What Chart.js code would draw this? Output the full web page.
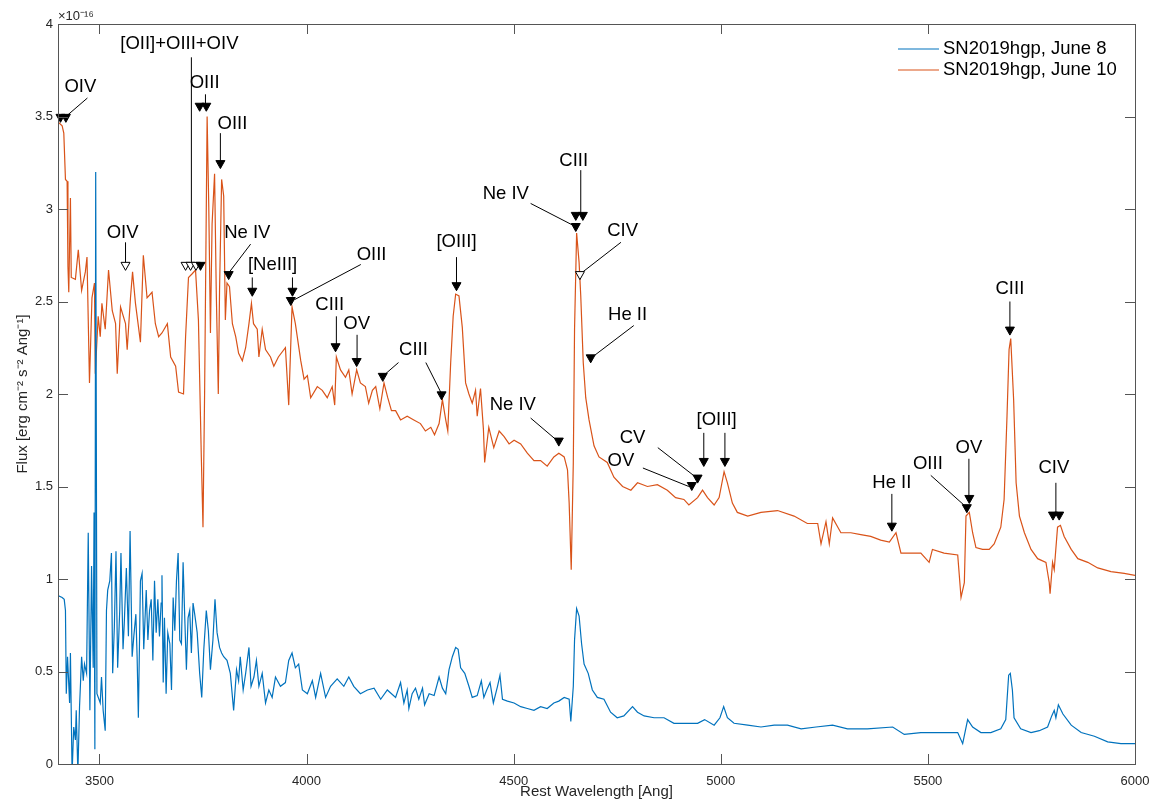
<!DOCTYPE html>
<html>
<head>
<meta charset="utf-8">
<title>SN2019hgp spectra</title>
<script src="https://cdn.jsdelivr.net/npm/chart.js@4.4.0/dist/chart.umd.min.js"></script>
<style>
    body { margin: 0; background: #fff; }
    #wrap { width: 1153px; height: 803px; }
</style>
</head>
<body>
<div id="wrap"><canvas id="spec" width="1153" height="803"></canvas></div>
<script>
// wavelength [Ang] / flux [1e-16 erg cm-2 s-1 Ang-1]
const waveJune10 = [3400, 3410, 3414, 3418, 3422, 3424, 3426, 3430, 3432, 3442, 3449, 3457, 3466, 3470, 3476, 3482, 3488, 3490, 3497, 3502,
    3506, 3514, 3522, 3531, 3539, 3543, 3551, 3563, 3567, 3575, 3580, 3587, 3599, 3606, 3615, 3627, 3635, 3643, 3651, 3664,
    3672, 3684, 3691, 3703, 3708, 3715, 3724, 3732, 3739, 3746, 3750, 3754, 3760, 3764, 3768, 3772, 3778, 3782, 3787, 3790,
    3795, 3800, 3804, 3808, 3814, 3821, 3829, 3836, 3845, 3853, 3861, 3867, 3872, 3881, 3885, 3893, 3901, 3913, 3921, 3932,
    3949, 3957, 3965, 3973, 3986, 3994, 4002, 4010, 4026, 4038, 4050, 4062, 4068, 4072, 4082, 4094, 4102, 4110, 4121, 4130,
    4142, 4150, 4159, 4167, 4177, 4187, 4196, 4205, 4215, 4227, 4243, 4259, 4275, 4287, 4300, 4309, 4320, 4328, 4336, 4341,
    4348, 4354, 4360, 4368, 4376, 4384, 4392, 4400, 4408, 4412, 4420, 4427, 4430, 4440, 4452, 4465, 4477, 4489, 4501, 4517,
    4533, 4549, 4565, 4581, 4597, 4609, 4622, 4630, 4634, 4639, 4644, 4647, 4652, 4658, 4662, 4668, 4674, 4682, 4694, 4706,
    4726, 4742, 4763, 4783, 4799, 4823, 4847, 4871, 4891, 4911, 4923, 4944, 4956, 4968, 4984, 4996, 5008, 5016, 5028, 5040,
    5065, 5097, 5137, 5177, 5209, 5234, 5242, 5254, 5262, 5270, 5290, 5314, 5338, 5362, 5386, 5407, 5423, 5435, 5459, 5483,
    5503, 5511, 5539, 5572, 5580, 5588, 5592, 5600, 5608, 5616, 5632, 5648, 5660, 5676, 5684, 5691, 5696, 5700, 5707, 5713,
    5721, 5733, 5749, 5765, 5785, 5793, 5795, 5801, 5805, 5813, 5820, 5829, 5846, 5862, 5886, 5910, 5942, 5974, 6000];
const fluxJune10 = [3.47, 3.45, 3.41, 3.16, 3.15, 2.69, 2.55, 3.06, 2.63, 2.62, 2.78, 2.56, 2.66, 2.74, 2.06, 2.52, 2.60, 2.11, 2.42, 2.31,
    2.49, 2.35, 2.67, 2.45, 2.38, 2.11, 2.47, 2.38, 2.24, 2.52, 2.66, 2.49, 2.28, 2.75, 2.52, 2.55, 2.38, 2.31, 2.33, 2.38,
    2.20, 2.15, 2.01, 2.00, 2.31, 2.63, 2.65, 2.67, 2.40, 1.66, 1.28, 2.02, 3.50, 3.01, 2.33, 2.92, 3.19, 2.56, 2.00, 2.56,
    3.16, 3.07, 2.40, 2.60, 2.58, 2.38, 2.31, 2.22, 2.18, 2.25, 2.38, 2.49, 2.38, 2.35, 2.20, 2.35, 2.24, 2.20, 2.15, 2.20,
    2.25, 1.94, 2.47, 2.38, 2.18, 2.08, 2.10, 1.98, 2.04, 2.02, 1.98, 2.04, 1.94, 2.20, 2.13, 2.09, 2.13, 2.00, 2.13, 2.06,
    2.04, 1.95, 2.02, 2.04, 1.92, 2.06, 1.98, 1.91, 1.91, 1.86, 1.88, 1.86, 1.84, 1.80, 1.82, 1.78, 1.84, 1.97, 1.86, 1.80,
    2.17, 2.42, 2.54, 2.53, 2.36, 2.06, 2.00, 1.95, 2.02, 1.88, 2.03, 1.81, 1.63, 1.82, 1.71, 1.80, 1.77, 1.73, 1.75, 1.73,
    1.68, 1.64, 1.64, 1.61, 1.66, 1.68, 1.66, 1.59, 1.41, 1.05, 1.63, 2.35, 2.87, 2.71, 2.53, 2.17, 1.98, 1.86, 1.72, 1.66,
    1.63, 1.55, 1.50, 1.48, 1.52, 1.50, 1.51, 1.48, 1.44, 1.43, 1.40, 1.44, 1.48, 1.44, 1.40, 1.44, 1.58, 1.52, 1.41, 1.36,
    1.34, 1.36, 1.37, 1.34, 1.30, 1.30, 1.19, 1.31, 1.19, 1.33, 1.25, 1.25, 1.24, 1.23, 1.21, 1.20, 1.25, 1.14, 1.14, 1.14,
    1.09, 1.16, 1.14, 1.13, 0.90, 0.98, 1.34, 1.36, 1.25, 1.17, 1.16, 1.16, 1.19, 1.28, 1.43, 1.88, 2.24, 2.30, 1.97, 1.52,
    1.34, 1.25, 1.16, 1.11, 1.09, 0.98, 0.92, 1.09, 1.05, 1.28, 1.29, 1.23, 1.16, 1.11, 1.09, 1.06, 1.04, 1.03, 1.02];

const waveJune8 = [3400, 3410, 3415, 3418, 3420, 3423, 3428, 3430, 3434, 3438, 3442, 3444, 3448, 3452, 3457, 3461, 3464, 3469, 3473, 3477,
    3481, 3485, 3487, 3489, 3491, 3494, 3502, 3505, 3509, 3514, 3517, 3520, 3525, 3529, 3532, 3536, 3540, 3544, 3549, 3552,
    3557, 3560, 3565, 3570, 3574, 3579, 3583, 3588, 3591, 3594, 3599, 3603, 3607, 3613, 3617, 3621, 3625, 3629, 3633, 3637,
    3641, 3645, 3649, 3651, 3654, 3657, 3661, 3665, 3670, 3674, 3678, 3682, 3686, 3690, 3694, 3698, 3702, 3706, 3710, 3714,
    3718, 3722, 3726, 3730, 3736, 3742, 3747, 3752, 3758, 3763, 3768, 3774, 3779, 3784, 3790, 3795, 3800, 3808, 3816, 3824,
    3831, 3836, 3840, 3847, 3853, 3861, 3866, 3873, 3879, 3885, 3893, 3901, 3909, 3917, 3925, 3937, 3949, 3957, 3965, 3973,
    3981, 3990, 4002, 4014, 4022, 4034, 4046, 4058, 4074, 4090, 4102, 4114, 4130, 4147, 4163, 4179, 4195, 4215, 4227, 4235,
    4243, 4247, 4255, 4263, 4271, 4280, 4285, 4296, 4308, 4320, 4328, 4336, 4344, 4352, 4360, 4366, 4372, 4382, 4392, 4400,
    4412, 4422, 4428, 4435, 4443, 4451, 4461, 4467, 4473, 4485, 4501, 4517, 4533, 4549, 4565, 4581, 4597, 4609, 4622, 4634,
    4638, 4644, 4647, 4652, 4658, 4664, 4670, 4680, 4690, 4702, 4718, 4734, 4750, 4766, 4787, 4799, 4815, 4839, 4863, 4887,
    4920, 4944, 4961, 4984, 4998, 5007, 5016, 5032, 5065, 5097, 5129, 5161, 5194, 5230, 5270, 5306, 5354, 5415, 5443, 5483,
    5532, 5572, 5584, 5596, 5608, 5628, 5652, 5676, 5688, 5695, 5699, 5704, 5708, 5724, 5749, 5769, 5789, 5799, 5805, 5809,
    5815, 5826, 5846, 5870, 5902, 5934, 5966, 6000];
const fluxJune8 = [0.91, 0.90, 0.89, 0.83, 0.38, 0.58, 0.33, 0.60, -0.05, 0.20, 0.13, 0.29, -0.05, 0.31, 0.58, 0.45, 0.54, 0.49, 1.25, 0.29,
    1.07, 0.52, 1.36, 0.08, 3.20, 0.38, 0.33, 0.47, 0.29, 0.18, 0.83, 0.94, 0.99, 1.14, 0.49, 0.74, 1.15, 0.52, 0.83, 1.14,
    0.62, 0.76, 1.06, 0.69, 1.26, 0.58, 0.69, 0.81, 0.58, 0.25, 0.99, 1.03, 0.62, 0.94, 0.67, 0.83, 0.89, 0.56, 0.99, 0.71,
    0.89, 0.69, 0.87, 1.02, 0.44, 0.79, 0.38, 0.71, 0.65, 0.40, 0.90, 0.72, 0.99, 1.14, 0.67, 0.65, 1.09, 0.79, 0.51, 0.79,
    0.83, 0.60, 0.87, 0.81, 0.71, 0.49, 0.36, 0.62, 0.83, 0.72, 0.51, 0.67, 0.89, 0.71, 0.63, 0.60, 0.58, 0.56, 0.49, 0.29,
    0.51, 0.45, 0.58, 0.40, 0.49, 0.63, 0.42, 0.47, 0.56, 0.42, 0.49, 0.33, 0.40, 0.36, 0.47, 0.42, 0.44, 0.56, 0.60, 0.52,
    0.54, 0.40, 0.38, 0.45, 0.36, 0.49, 0.36, 0.42, 0.46, 0.42, 0.47, 0.42, 0.38, 0.40, 0.41, 0.35, 0.40, 0.36, 0.44, 0.33,
    0.40, 0.30, 0.38, 0.41, 0.35, 0.41, 0.32, 0.38, 0.37, 0.47, 0.41, 0.38, 0.51, 0.58, 0.63, 0.62, 0.52, 0.49, 0.42, 0.36,
    0.37, 0.45, 0.36, 0.40, 0.44, 0.33, 0.42, 0.48, 0.35, 0.34, 0.33, 0.31, 0.30, 0.29, 0.31, 0.30, 0.33, 0.34, 0.36, 0.35,
    0.23, 0.42, 0.67, 0.84, 0.80, 0.65, 0.54, 0.49, 0.40, 0.36, 0.35, 0.28, 0.25, 0.26, 0.31, 0.28, 0.26, 0.25, 0.25, 0.22,
    0.22, 0.22, 0.24, 0.21, 0.25, 0.31, 0.25, 0.22, 0.21, 0.20, 0.21, 0.21, 0.19, 0.20, 0.21, 0.19, 0.19, 0.20, 0.16, 0.17,
    0.17, 0.17, 0.11, 0.24, 0.20, 0.17, 0.17, 0.19, 0.24, 0.48, 0.49, 0.40, 0.25, 0.19, 0.17, 0.18, 0.20, 0.26, 0.29, 0.25,
    0.32, 0.27, 0.21, 0.17, 0.15, 0.12, 0.11, 0.11];

const seriesLabels = ['SN2019hgp, June 8', 'SN2019hgp, June 10'];
const xTickValues = [3500, 4000, 4500, 5000, 5500, 6000];
const yTickValues = [0, 0.5, 1, 1.5, 2, 2.5, 3, 3.5, 4];

// line identifications: label, label centre, arrow segments, marker positions (all in data units)
const lineIds = [
    {text: 'OIV', at: [3454, 3.66], lines: [[3471, 3.60, 3414, 3.49]], filled: [[3406, 3.49], [3419, 3.49]], open: []},
    {text: '[OII]+OIII+OIV', at: [3693, 3.89], lines: [[3722, 3.82, 3722, 2.69]], filled: [[3744, 2.69]], open: [[3708, 2.69], [3720, 2.69], [3733, 2.69]]},
    {text: 'OIII', at: [3754, 3.68], lines: [[3756, 3.62, 3756, 3.55]], filled: [[3742, 3.55], [3758, 3.55]], open: []},
    {text: 'OIII', at: [3821, 3.46], lines: [[3792, 3.41, 3792, 3.24]], filled: [[3792, 3.24]], open: []},
    {text: 'OIV', at: [3556, 2.87], lines: [[3563, 2.82, 3563, 2.69]], filled: [], open: [[3563, 2.69]]},
    {text: 'Ne IV', at: [3857, 2.87], lines: [[3865, 2.81, 3814, 2.66]], filled: [[3812, 2.64]], open: []},
    {text: '[NeIII]', at: [3918, 2.70], lines: [[3869, 2.63, 3869, 2.55], [3966, 2.63, 3966, 2.55]], filled: [[3869, 2.55], [3966, 2.55]], open: []},
    {text: 'OIII', at: [4157, 2.75], lines: [[4131, 2.70, 3971, 2.51]], filled: [[3962, 2.50]], open: []},
    {text: 'CIII', at: [4056, 2.48], lines: [[4072, 2.42, 4072, 2.25]], filled: [[4070, 2.25]], open: []},
    {text: 'OV', at: [4121, 2.38], lines: [[4122, 2.32, 4122, 2.17]], filled: [[4121, 2.17]], open: []},
    {text: 'CIII', at: [4258, 2.24], lines: [[4222, 2.17, 4186, 2.10], [4288, 2.17, 4324, 2.01]], filled: [[4184, 2.09], [4326, 1.99]], open: []},
    {text: '[OIII]', at: [4362, 2.82], lines: [[4362, 2.74, 4362, 2.59]], filled: [[4362, 2.58]], open: []},
    {text: 'Ne IV', at: [4498, 1.94], lines: [[4541, 1.87, 4604, 1.75]], filled: [[4609, 1.74]], open: []},
    {text: 'CIII', at: [4645, 3.26], lines: [[4662, 3.21, 4662, 2.97]], filled: [[4650, 2.96], [4667, 2.96]], open: []},
    {text: 'Ne IV', at: [4481, 3.08], lines: [[4541, 3.03, 4645, 2.91]], filled: [[4650, 2.90]], open: []},
    {text: 'CIV', at: [4763, 2.88], lines: [[4759, 2.82, 4667, 2.66]], filled: [], open: [[4660, 2.64]]},
    {text: 'He II', at: [4775, 2.43], lines: [[4790, 2.37, 4696, 2.21]], filled: [[4686, 2.19]], open: []},
    {text: 'CV', at: [4787, 1.76], lines: [[4848, 1.71, 4940, 1.55]], filled: [[4944, 1.54]], open: []},
    {text: 'OV', at: [4759, 1.64], lines: [[4812, 1.60, 4923, 1.50]], filled: [[4930, 1.50]], open: []},
    {text: '[OIII]', at: [4990, 1.86], lines: [[4959, 1.79, 4959, 1.63], [5010, 1.79, 5010, 1.63]], filled: [[4959, 1.63], [5010, 1.63]], open: []},
    {text: 'He II', at: [5413, 1.52], lines: [[5413, 1.46, 5413, 1.28]], filled: [[5413, 1.28]], open: []},
    {text: 'OIII', at: [5500, 1.62], lines: [[5507, 1.56, 5587, 1.40]], filled: [[5594, 1.38]], open: []},
    {text: 'OV', at: [5599, 1.71], lines: [[5599, 1.65, 5599, 1.43]], filled: [[5600, 1.43]], open: []},
    {text: 'CIII', at: [5698, 2.57], lines: [[5698, 2.50, 5698, 2.35]], filled: [[5698, 2.34]], open: []},
    {text: 'CIV', at: [5804, 1.60], lines: [[5809, 1.52, 5809, 1.34]], filled: [[5802, 1.34], [5817, 1.34]], open: []}
];

const BLUE = '#0072BD';
const ORANGE = '#D95319';
const AXIS = '#555555';
const FONT = "'Liberation Sans', Arial, Helvetica, sans-serif";

function toPoints(xs, ys) {
    return xs.map((x, i) => ({x: x, y: ys[i]}));
}

function drawTriangle(ctx, x, y, hollow) {
    ctx.beginPath();
    ctx.moveTo(x - 4.5, y - 4);
    ctx.lineTo(x + 4.5, y - 4);
    ctx.lineTo(x, y + 4);
    ctx.closePath();
    ctx.fillStyle = hollow ? '#ffffff' : '#000000';
    ctx.fill();
    ctx.strokeStyle = '#000000';
    ctx.lineWidth = 1;
    ctx.stroke();
}

// box, inward ticks on all four sides, exponent note
const axesBox = {
    id: 'axesBox',
    afterDraw(chart) {
        const ctx = chart.ctx;
        const a = chart.chartArea;
        const xs = chart.scales.x;
        const ys = chart.scales.y;
        ctx.save();
        ctx.strokeStyle = AXIS;
        ctx.lineWidth = 1;
        ctx.strokeRect(a.left + 0.5, a.top + 0.5, a.right - a.left, a.bottom - a.top);
        ctx.beginPath();
        xs.ticks.forEach(t => {
            const px = Math.round(xs.getPixelForValue(t.value)) + 0.5;
            ctx.moveTo(px, a.bottom); ctx.lineTo(px, a.bottom - 10);
            ctx.moveTo(px, a.top); ctx.lineTo(px, a.top + 10);
        });
        ys.ticks.forEach(t => {
            const py = Math.round(ys.getPixelForValue(t.value)) + 0.5;
            ctx.moveTo(a.left, py); ctx.lineTo(a.left + 10, py);
            ctx.moveTo(a.right, py); ctx.lineTo(a.right - 10, py);
        });
        ctx.stroke();

        ctx.fillStyle = '#262626';
        ctx.font = '13px ' + FONT;
        ctx.textAlign = 'left';
        ctx.textBaseline = 'middle';
        ctx.fillText('×10⁻¹⁶', a.left, a.top - 8);
        ctx.restore();
    }
};

const lineMarks = {
    id: 'lineMarks',
    afterDatasetsDraw(chart) {
        const ctx = chart.ctx;
        const xs = chart.scales.x;
        const ys = chart.scales.y;
        const px = v => xs.getPixelForValue(v);
        const py = v => ys.getPixelForValue(v);
        ctx.save();
        ctx.strokeStyle = '#000000';
        ctx.lineWidth = 1;
        lineIds.forEach(id => {
            id.lines.forEach(l => {
                ctx.beginPath();
                ctx.moveTo(px(l[0]), py(l[1]));
                ctx.lineTo(px(l[2]), py(l[3]));
                ctx.stroke();
            });
        });
        lineIds.forEach(id => {
            id.open.forEach(m => drawTriangle(ctx, px(m[0]), py(m[1]), true));
            id.filled.forEach(m => drawTriangle(ctx, px(m[0]), py(m[1]), false));
        });
        ctx.fillStyle = '#000000';
        ctx.font = '18.5px ' + FONT;
        ctx.textAlign = 'center';
        ctx.textBaseline = 'middle';
        lineIds.forEach(id => ctx.fillText(id.text, px(id.at[0]), py(id.at[1])));
        ctx.restore();
    }
};

const cornerLegend = {
    id: 'cornerLegend',
    afterDraw(chart) {
        const ctx = chart.ctx;
        const a = chart.chartArea;
        ctx.save();
        ctx.font = '18.5px ' + FONT;
        ctx.textAlign = 'left';
        ctx.textBaseline = 'middle';
        chart.data.datasets.forEach((ds, i) => {
            const y = a.top + 25 + i * 21;
            ctx.strokeStyle = ds.borderColor;
            ctx.lineWidth = 1.2;
            ctx.beginPath();
            ctx.moveTo(a.right - 237, y);
            ctx.lineTo(a.right - 196, y);
            ctx.stroke();
            ctx.fillStyle = '#000000';
            ctx.fillText(ds.label, a.right - 192, y);
        });
        ctx.restore();
    }
};

Chart.defaults.font.family = FONT;

new Chart(document.getElementById('spec'), {
    type: 'line',
    data: {
        datasets: [
            {
                label: seriesLabels[0],
                data: toPoints(waveJune8, fluxJune8),
                borderColor: BLUE,
                borderWidth: 1.2,
                pointRadius: 0,
                tension: 0
            },
            {
                label: seriesLabels[1],
                data: toPoints(waveJune10, fluxJune10),
                borderColor: ORANGE,
                borderWidth: 1.2,
                pointRadius: 0,
                tension: 0
            }
        ]
    },
    options: {
        responsive: false,
        animation: false,
        events: [],
        layout: {padding: {top: 24, right: 18, left: 0, bottom: 0}},
        plugins: {
            legend: {display: false},
            tooltip: {enabled: false}
        },
        scales: {
            x: {
                type: 'linear',
                min: 3400,
                max: 6000,
                afterBuildTicks: s => { s.ticks = xTickValues.map(v => ({value: v})); },
                afterFit: s => { s.height = 39; s.paddingLeft = 0; s.paddingRight = 0; },
                grid: {display: false, drawTicks: false},
                border: {display: false},
                ticks: {
                    padding: 10,
                    color: '#262626',
                    font: {size: 13},
                    maxRotation: 0,
                    callback: v => String(v)
                },
                title: {
                    display: true,
                    text: 'Rest Wavelength [Ang]',
                    color: '#262626',
                    font: {size: 15},
                    padding: {top: 0, bottom: 2}
                }
            },
            y: {
                type: 'linear',
                min: 0,
                max: 4,
                afterBuildTicks: s => { s.ticks = yTickValues.map(v => ({value: v})); },
                afterFit: s => { s.width = 58; s.paddingTop = 0; s.paddingBottom = 0; },
                grid: {display: false, drawTicks: false},
                border: {display: false},
                ticks: {
                    padding: 5,
                    color: '#262626',
                    font: {size: 13},
                    callback: v => String(v)
                },
                title: {
                    display: true,
                    text: 'Flux [erg cm⁻² s⁻² Ang⁻¹]',
                    color: '#262626',
                    font: {size: 15},
                    padding: {top: 14, bottom: 0}
                }
            }
        }
    },
    plugins: [axesBox, lineMarks, cornerLegend]
});
</script>
</body>
</html>
